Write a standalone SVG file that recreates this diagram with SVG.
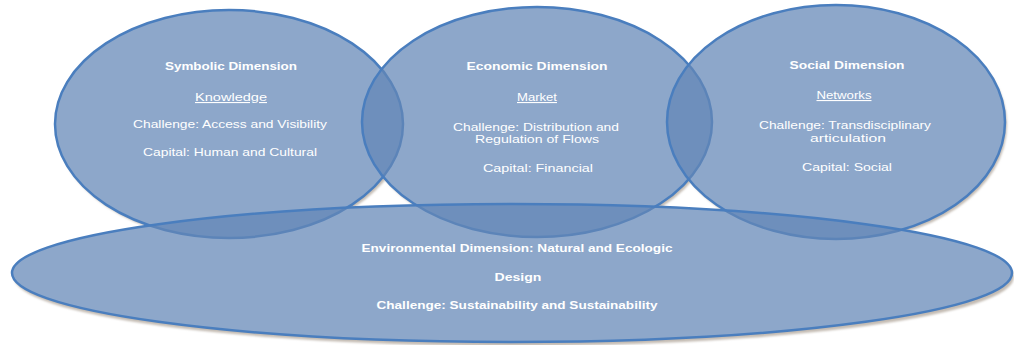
<svg xmlns="http://www.w3.org/2000/svg" width="1014" height="345" viewBox="0 0 1014 345">
  <defs>
    <filter id="soft" x="-5%" y="-10%" width="110%" height="125%">
      <feGaussianBlur stdDeviation="1.3"/>
    </filter>
    <style>
      .shadow { fill: #c4bcb3; filter: url(#soft); }
      .under { fill: #ffffff; }
      .dim { fill: rgb(99,134,182); fill-opacity: 0.73; stroke: #4a7ebe; stroke-width: 2.5; }
      text { font-family: "Liberation Sans", Arial, sans-serif; fill: #ffffff; text-anchor: middle; font-size: 11px; }
      .title { font-weight: bold; }
      .key { text-decoration: underline; }
    </style>
  </defs>

  <rect width="1014" height="345" fill="#ffffff"/>

  <!-- drop shadows -->
  <g id="shadows">
    <ellipse class="shadow" cx="231" cy="127" rx="174" ry="114"/>
    <ellipse class="shadow" cx="539" cy="125" rx="175" ry="115"/>
    <ellipse class="shadow" cx="838" cy="125" rx="169" ry="117"/>
    <ellipse class="shadow" cx="514" cy="277" rx="500" ry="69"/>
  </g>

  <!-- opaque backing so the translucent fills tint only against white -->
  <g id="backing">
    <ellipse class="under" cx="229" cy="124" rx="174" ry="114"/>
    <ellipse class="under" cx="537" cy="122" rx="175" ry="115"/>
    <ellipse class="under" cx="836" cy="122" rx="169" ry="117"/>
    <ellipse class="under" cx="512" cy="273" rx="500" ry="69"/>
  </g>

  <g id="connectors"></g>

  <g id="symbolic">
    <ellipse class="dim" cx="229" cy="124" rx="174" ry="114"/>
  </g>
  <g id="economic">
    <ellipse class="dim" cx="537" cy="122" rx="175" ry="115"/>
  </g>
  <g id="social">
    <ellipse class="dim" cx="836" cy="122" rx="169" ry="117"/>
  </g>
  <g id="environmental">
    <ellipse class="dim" cx="512" cy="273" rx="500" ry="69"/>
  </g>

  <!-- labels -->
  <g id="symbolic-text">
    <text class="title" x="231" y="70" textLength="132" lengthAdjust="spacingAndGlyphs">Symbolic Dimension</text>
    <text class="key" x="231" y="101" textLength="72" lengthAdjust="spacingAndGlyphs">Knowledge</text>
    <text x="230" y="128" textLength="194" lengthAdjust="spacingAndGlyphs">Challenge: Access and Visibility</text>
    <text x="230" y="156" textLength="174" lengthAdjust="spacingAndGlyphs">Capital: Human and Cultural</text>
  </g>
  <g id="economic-text">
    <text class="title" x="537" y="70" textLength="141" lengthAdjust="spacingAndGlyphs">Economic Dimension</text>
    <text class="key" x="537" y="101" textLength="40" lengthAdjust="spacingAndGlyphs">Market</text>
    <text x="536" y="131" textLength="166" lengthAdjust="spacingAndGlyphs">Challenge: Distribution and</text>
    <text x="537" y="143" textLength="124" lengthAdjust="spacingAndGlyphs">Regulation of Flows</text>
    <text x="538" y="172" textLength="110" lengthAdjust="spacingAndGlyphs">Capital: Financial</text>
  </g>
  <g id="social-text">
    <text class="title" x="847" y="69" textLength="115" lengthAdjust="spacingAndGlyphs">Social Dimension</text>
    <text class="key" x="844" y="99" textLength="55" lengthAdjust="spacingAndGlyphs">Networks</text>
    <text x="845" y="129" textLength="172" lengthAdjust="spacingAndGlyphs">Challenge: Transdisciplinary</text>
    <text x="848" y="142" textLength="76" lengthAdjust="spacingAndGlyphs">articulation</text>
    <text x="847" y="171" textLength="90" lengthAdjust="spacingAndGlyphs">Capital: Social</text>
  </g>
  <g id="environmental-text">
    <text class="title" x="517" y="252" textLength="311" lengthAdjust="spacingAndGlyphs">Environmental Dimension: Natural and Ecologic</text>
    <text class="title" x="518" y="281" textLength="47" lengthAdjust="spacingAndGlyphs">Design</text>
    <text class="title" x="517" y="309" textLength="281" lengthAdjust="spacingAndGlyphs">Challenge:  Sustainability and Sustainability</text>
  </g>
</svg>
